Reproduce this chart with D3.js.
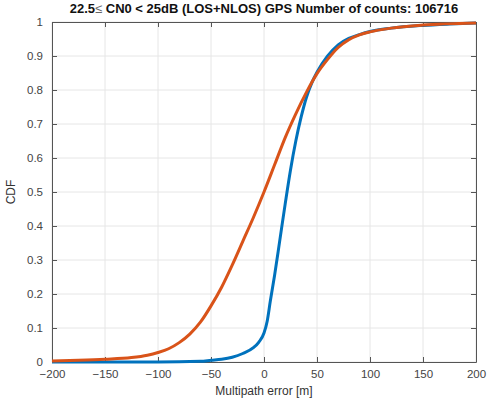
<!DOCTYPE html>
<html>
<head>
<meta charset="utf-8">
<script src="https://d3js.org/d3.v7.min.js"></script>
<style>
  body { margin: 0; background: #fff; }
  svg { font-family: "Liberation Sans", Arial, sans-serif; }
</style>
</head>
<body>
<div id="chart"></div>
<script>
// CDF of multipath error, two curves
var blueX  = [-200, -100, -60, -50, -40, -30, -20, -10, -5, 0, 3, 6, 10, 15, 20, 25, 30, 35, 40, 45, 50, 60, 70, 80, 90, 100, 120, 150, 175, 200];
var blueY  = [0, 0, 0.002, 0.005, 0.008, 0.014, 0.025, 0.042, 0.058, 0.085, 0.12, 0.18, 0.255, 0.36, 0.465, 0.565, 0.65, 0.72, 0.778, 0.82, 0.852, 0.9, 0.933, 0.952, 0.963, 0.972, 0.982, 0.99, 0.994, 0.997];
var orangeX = [-200, -175, -150, -125, -110, -100, -90, -80, -70, -60, -50, -40, -30, -20, -10, 0, 10, 20, 30, 40, 50, 60, 70, 80, 90, 100, 120, 150, 200];
var orangeY = [0.003, 0.005, 0.008, 0.013, 0.02, 0.028, 0.039, 0.057, 0.082, 0.117, 0.165, 0.22, 0.285, 0.355, 0.425, 0.5, 0.58, 0.66, 0.73, 0.793, 0.848, 0.89, 0.925, 0.948, 0.962, 0.971, 0.982, 0.991, 0.997];
var xTicks = [-200, -150, -100, -50, 0, 50, 100, 150, 200];
var yTicks = [0, 0.1, 0.2, 0.3, 0.4, 0.5, 0.6, 0.7, 0.8, 0.9, 1];

var margin = {top: 22, right: 11, bottom: 43, left: 52},
    width = 487 - margin.left - margin.right,
    height = 405 - margin.top - margin.bottom;

var svg = d3.select("#chart")
  .append("svg")
    .attr("width", 487)
    .attr("height", 405)
  .append("g")
    .attr("transform", "translate(" + margin.left + "," + margin.top + ")");

var x = d3.scaleLinear().domain([-200, 200]).range([0, width]);
var y = d3.scaleLinear().domain([0, 1]).range([height, 0]);

// grid
svg.append("g").selectAll("line").data(xTicks).enter().append("line")
  .attr("x1", d => x(d)).attr("x2", d => x(d))
  .attr("y1", 0).attr("y2", height)
  .attr("stroke", "#e6e6e6").attr("stroke-width", 1);
svg.append("g").selectAll("line").data(yTicks).enter().append("line")
  .attr("y1", d => y(d)).attr("y2", d => y(d))
  .attr("x1", 0).attr("x2", width)
  .attr("stroke", "#e6e6e6").attr("stroke-width", 1);

// axes (ticks inward, box on)
function style(g) {
  g.selectAll("path").attr("stroke", "#555");
  g.selectAll("line").attr("stroke", "#555");
  g.selectAll("text").attr("fill", "#444").style("font-size", "11.5px");
}
svg.append("g")
  .attr("transform", "translate(0," + height + ")")
  .call(d3.axisBottom(x).tickValues(xTicks).tickSizeInner(-5).tickSizeOuter(0).tickPadding(8))
  .call(style);
svg.append("g")
  .call(d3.axisLeft(y).tickValues(yTicks).tickFormat(d3.format("~g")).tickSizeInner(-5).tickSizeOuter(0).tickPadding(9))
  .call(style);
svg.append("g")
  .call(d3.axisTop(x).tickValues(xTicks).tickFormat("").tickSizeInner(-5).tickSizeOuter(0))
  .call(style);
svg.append("g")
  .attr("transform", "translate(" + width + ",0)")
  .call(d3.axisRight(y).tickValues(yTicks).tickFormat("").tickSizeInner(-5).tickSizeOuter(0))
  .call(style);

// curves
var line = d3.line().curve(d3.curveMonotoneX)
  .x(d => x(d[0])).y(d => y(d[1]));

svg.append("path")
  .datum(blueX.map((v, i) => [v, blueY[i]]))
  .attr("d", line).attr("fill", "none")
  .attr("stroke", "#0072BD").attr("stroke-width", 3);
svg.append("path")
  .datum(orangeX.map((v, i) => [v, orangeY[i]]))
  .attr("d", line).attr("fill", "none")
  .attr("stroke", "#D95319").attr("stroke-width", 3);

// labels
svg.append("text")
  .attr("x", width / 2).attr("y", height + 33)
  .attr("text-anchor", "middle").attr("fill", "#333")
  .style("font-size", "12px")
  .text("Multipath error [m]");
svg.append("text")
  .attr("transform", "translate(-37," + (height / 2) + ")rotate(-90)")
  .attr("text-anchor", "middle").attr("fill", "#333")
  .style("font-size", "12px")
  .text("CDF");
var title = svg.append("text")
  .attr("x", width / 2).attr("y", -9)
  .attr("text-anchor", "middle").attr("fill", "#111")
  .style("font-size", "13px").style("font-weight", "bold");
title.append("tspan").text("22.5");
title.append("tspan").attr("font-weight", "normal").attr("fill", "#666").text("\u2264");
title.append("tspan").text(" CN0 < 25dB (LOS+NLOS) GPS Number of counts: 106716");
</script>
</body>
</html>
